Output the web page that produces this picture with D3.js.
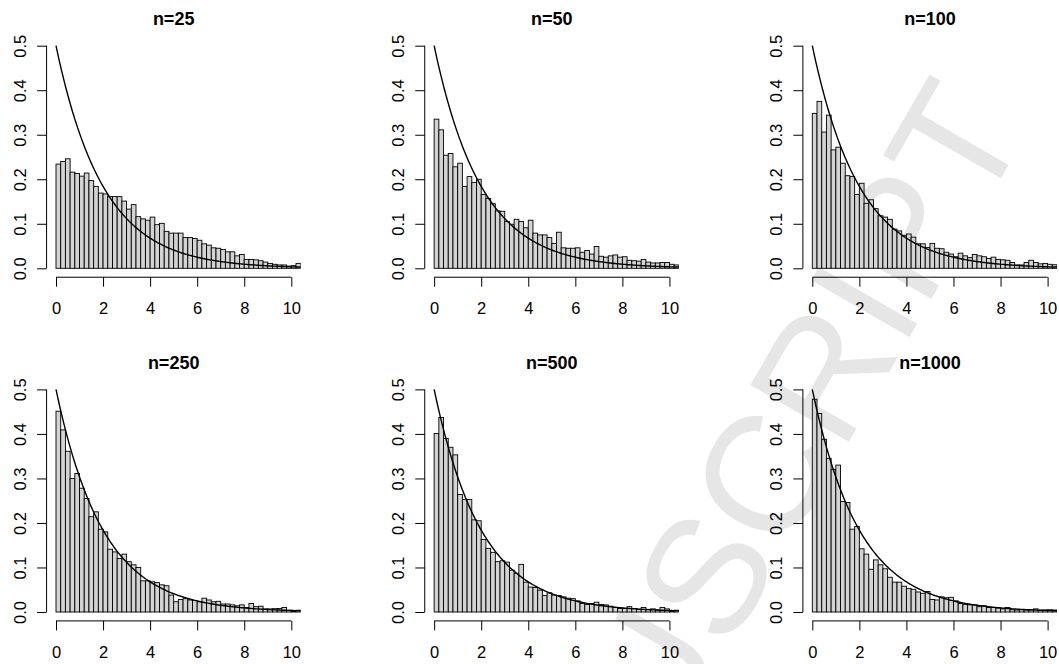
<!DOCTYPE html>
<html>
<head>
<meta charset="utf-8">
<script src="https://cdn.jsdelivr.net/npm/d3@7"></script>
<style>
  body { margin: 0; background: #fff; }
  svg { display: block; font-family: "Liberation Sans", Arial, Helvetica, sans-serif; }
</style>
</head>
<body>
<div id="chart"></div>
<script>
// histogram densities, bin width 0.2 starting at 0
const binWidth = 0.2;
const rate = 0.5; // theoretical exponential density overlaid on every panel

const titles = ["n=25", "n=50", "n=100", "n=250", "n=500", "n=1000"];
const xTicks = [0, 2, 4, 6, 8, 10];
const yTicks = [0.0, 0.1, 0.2, 0.3, 0.4, 0.5];

const dens25 = [0.234, 0.240, 0.246, 0.216, 0.213, 0.207, 0.214, 0.197, 0.184, 0.169,
  0.167, 0.161, 0.161, 0.161, 0.151, 0.133, 0.143, 0.116, 0.111, 0.108,
  0.115, 0.098, 0.101, 0.083, 0.079, 0.079, 0.079, 0.069, 0.069, 0.067,
  0.063, 0.055, 0.052, 0.046, 0.045, 0.042, 0.037, 0.037, 0.028, 0.031,
  0.020, 0.020, 0.019, 0.017, 0.014, 0.011, 0.009, 0.0075, 0.0075, 0.005,
  0.006, 0.011];
const dens50 = [0.335, 0.311, 0.254, 0.258, 0.228, 0.236, 0.184, 0.206, 0.193, 0.200,
  0.166, 0.157, 0.145, 0.129, 0.128, 0.105, 0.099, 0.110, 0.105, 0.091,
  0.108, 0.079, 0.075, 0.075, 0.069, 0.056, 0.081, 0.046, 0.045, 0.045,
  0.046, 0.036, 0.040, 0.032, 0.049, 0.027, 0.025, 0.028, 0.030, 0.025,
  0.026, 0.018, 0.017, 0.016, 0.020, 0.014, 0.012, 0.012, 0.013, 0.013,
  0.009, 0.0075];
const dens100 = [0.348, 0.375, 0.306, 0.344, 0.266, 0.272, 0.236, 0.208, 0.206, 0.166,
  0.191, 0.146, 0.154, 0.134, 0.118, 0.115, 0.110, 0.088, 0.084, 0.074,
  0.077, 0.070, 0.055, 0.055, 0.047, 0.056, 0.045, 0.044, 0.036, 0.032,
  0.026, 0.034, 0.028, 0.024, 0.031, 0.028, 0.026, 0.022, 0.025, 0.020,
  0.019, 0.018, 0.013, 0.0075, 0.0075, 0.013, 0.018, 0.013, 0.010, 0.011,
  0.009, 0.008];
const dens250 = [0.451, 0.409, 0.361, 0.300, 0.311, 0.278, 0.255, 0.214, 0.225, 0.186,
  0.180, 0.141, 0.135, 0.120, 0.130, 0.113, 0.106, 0.100, 0.070, 0.070,
  0.068, 0.066, 0.061, 0.059, 0.038, 0.023, 0.028, 0.030, 0.027, 0.026,
  0.023, 0.031, 0.027, 0.023, 0.024, 0.018, 0.018, 0.016, 0.014, 0.016,
  0.010, 0.019, 0.012, 0.013, 0.007, 0.007, 0.0075, 0.008, 0.010, 0.004,
  0.002, 0.004];
const dens500 = [0.401, 0.437, 0.390, 0.370, 0.353, 0.264, 0.253, 0.253, 0.207, 0.205,
  0.163, 0.143, 0.134, 0.113, 0.115, 0.112, 0.094, 0.087, 0.107, 0.067,
  0.056, 0.055, 0.049, 0.037, 0.043, 0.038, 0.037, 0.034, 0.031, 0.030,
  0.025, 0.019, 0.017, 0.019, 0.022, 0.017, 0.016, 0.013, 0.010, 0.008,
  0.008, 0.012, 0.008, 0.006, 0.010, 0.006, 0.007, 0.0045, 0.010, 0.007,
  0.001, 0.004];
const dens1000 = [0.478, 0.446, 0.388, 0.345, 0.320, 0.330, 0.248, 0.246, 0.186, 0.192,
  0.142, 0.130, 0.096, 0.117, 0.106, 0.097, 0.078, 0.067, 0.067, 0.058,
  0.053, 0.051, 0.045, 0.042, 0.046, 0.028, 0.027, 0.034, 0.032, 0.033,
  0.025, 0.019, 0.017, 0.016, 0.016, 0.012, 0.014, 0.010, 0.010, 0.009,
  0.007, 0.010, 0.005, 0.0045, 0.005, 0.0045, 0.0045, 0.007, 0.004, 0.0045,
  0.005, 0.0045];
const panels = [dens25, dens50, dens100, dens250, dens500, dens1000];

const width = 1059, height = 664;
const svg = d3.select('#chart').append('svg')
    .attr('width', width)
    .attr('height', height);

// faint watermark behind the plots
svg.append('text')
    .attr('transform', 'translate(1030,128) rotate(-60)')
    .attr('text-anchor', 'end')
    .attr('font-size', 165)
    .attr('fill', '#e6e6e6')
    .text('ACCEPTED MANUSCRIPT');

const unitX = 23.53;   // px per x unit
const unitY = 445.2;   // px per density unit
const defs = svg.append('defs');

panels.forEach(function (dens, i) {
    const col = i % 3, row = Math.floor(i / 3);
    const zeroX = 56 + 378.15 * col;
    const zeroY = 268.3 + 343.7 * row;

    // R style range: xlim 0..10 and ylim 0..0.5 padded by 4%
    const x = d3.scaleLinear().domain([-0.4, 10.4])
        .range([zeroX - 0.4 * unitX, zeroX + 10.4 * unitX]);
    const y = d3.scaleLinear().domain([-0.02, 0.52])
        .range([zeroY + 0.02 * unitY, zeroY - 0.52 * unitY]);

    const clipId = 'clip' + i;
    defs.append('clipPath').attr('id', clipId)
        .append('rect')
        .attr('x', x(-0.4)).attr('y', y(0.52))
        .attr('width', x(10.4) - x(-0.4))
        .attr('height', y(-0.02) - y(0.52));

    const g = svg.append('g');
    const plot = g.append('g').attr('clip-path', 'url(#' + clipId + ')');

    plot.selectAll('rect')
        .data(dens).enter()
        .append('rect')
        .attr('x', (d, k) => x(k * binWidth))
        .attr('y', d => y(d))
        .attr('width', x(binWidth) - x(0))
        .attr('height', d => y(0) - y(d))
        .attr('fill', '#d3d3d3')
        .attr('stroke', '#000')
        .attr('stroke-width', 0.9);

    const xs = d3.range(0, 10.41, 0.05);
    const line = d3.line()
        .x(d => x(d))
        .y(d => y(rate * Math.exp(-rate * d)));
    plot.append('path')
        .datum(xs)
        .attr('d', line)
        .attr('fill', 'none')
        .attr('stroke', '#000')
        .attr('stroke-width', 1.4);

    // x axis along the bottom of the plot region
    const xAxis = g.append('g')
        .attr('transform', 'translate(0,' + y(-0.02) + ')')
        .call(d3.axisBottom(x).tickValues(xTicks).tickSize(9.5).tickPadding(16).tickSizeOuter(0));
    xAxis.select('.domain').remove();
    xAxis.append('line')
        .attr('x1', x(0)).attr('x2', x(10))
        .attr('stroke', '#000');
    xAxis.selectAll('text')
        .attr('font-size', 16.5)
        .attr('font-family', null)
        .attr('fill', '#000');

    // y axis on the left, labels turned like R
    const yAxis = g.append('g')
        .attr('transform', 'translate(' + x(-0.4) + ',0)')
        .call(d3.axisLeft(y).tickValues(yTicks).tickSize(9.5).tickSizeOuter(0).tickFormat(d3.format('.1f')));
    yAxis.select('.domain').remove();
    yAxis.append('line')
        .attr('y1', y(0)).attr('y2', y(0.5))
        .attr('stroke', '#000');
    yAxis.selectAll('text')
        .attr('font-size', 16.5)
        .attr('font-family', null)
        .attr('fill', '#000')
        .attr('text-anchor', 'middle')
        .attr('transform', 'rotate(-90)')
        .attr('x', 0)
        .attr('y', -21)
        .attr('dy', 0);

    g.append('text')
        .attr('x', (x(-0.4) + x(10.4)) / 2)
        .attr('y', zeroY - 243.5)
        .attr('text-anchor', 'middle')
        .attr('font-size', 18)
        .attr('font-weight', 'bold')
        .text(titles[i]);
});
</script>
</body>
</html>
